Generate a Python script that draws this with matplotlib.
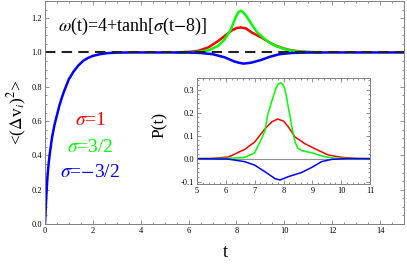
import numpy as np
import matplotlib
matplotlib.use("Agg")
import matplotlib.pyplot as plt
from matplotlib.ticker import MultipleLocator, FormatStrFormatter

plt.rcParams['font.family'] = ['Liberation Serif', 'DejaVu Serif']
plt.rcParams['mathtext.fontset'] = 'stix'

# Hauptplot: <(Δv_i)^2> über t
t_blau = [0, 0.05, 0.1, 0.15, 0.2, 0.3, 0.4, 0.5, 0.6, 0.7, 0.8, 0.9, 1.0, 1.2, 1.4,
          1.6, 1.8, 2.0, 2.3, 2.6, 3.0, 3.5, 4, 5, 6, 6.5, 7, 7.5, 7.9, 8.1, 8.3,
          8.6, 9.0, 9.4, 9.8, 10.3, 11, 12, 13, 14, 15]
v_blau = [0, 0.15, 0.27, 0.35, 0.41, 0.51, 0.58, 0.635, 0.69, 0.735, 0.775, 0.81,
          0.845, 0.89, 0.925, 0.952, 0.968, 0.98, 0.99, 0.996, 0.999, 1.0, 1.0, 1.0,
          1.0, 0.997, 0.99, 0.972, 0.948, 0.94, 0.935, 0.94, 0.955, 0.975, 0.99,
          0.997, 1.0, 1.0, 1.0, 1.0, 1.0]
t_rot = [5.5, 6.0, 6.42, 6.83, 7.25, 7.5, 7.8, 8.0, 8.18, 8.4, 8.63, 9.05, 9.3, 9.6,
         10.0, 10.3, 10.8, 11.5]
v_rot = [1.0, 1.003, 1.01, 1.03, 1.068, 1.095, 1.128, 1.142, 1.146, 1.14, 1.117,
         1.087, 1.065, 1.042, 1.022, 1.012, 1.004, 1.0]
t_gruen = [5.5, 6.0, 6.42, 6.83, 7.25, 7.5, 7.75, 7.95, 8.08, 8.18, 8.28, 8.4, 8.63,
           8.85, 9.05, 9.3, 9.6, 10.0, 10.3, 10.8, 11.5]
v_gruen = [1.0, 1.0, 1.004, 1.012, 1.04, 1.075, 1.13, 1.2, 1.235, 1.243, 1.235, 1.215,
           1.165, 1.12, 1.095, 1.065, 1.04, 1.02, 1.01, 1.003, 1.0]

# Inset: P(t)
p_t_rot = [5, 5.5, 6.09, 6.65, 7.0, 7.36, 7.6, 7.8, 8.0, 8.17, 8.4, 8.74, 9.09, 9.55,
           10.0, 10.5, 11]
p_rot = [0, 0.001, 0.007, 0.04, 0.072, 0.13, 0.16, 0.172, 0.163, 0.138, 0.094, 0.065,
         0.043, 0.016, 0.006, 0.001, 0]
p_t_gruen = [5, 6.0, 6.65, 7.0, 7.24, 7.36, 7.45, 7.59, 7.75, 7.83, 7.91, 7.98, 8.05,
             8.11, 8.17, 8.24, 8.3, 8.4, 8.5, 8.63, 8.8, 8.98, 9.2, 9.44, 9.8, 10.5, 11]
p_gruen = [0, 0.001, 0.005, 0.025, 0.087, 0.123, 0.19, 0.248, 0.31, 0.325, 0.329,
           0.322, 0.30, 0.265, 0.22, 0.175, 0.13, 0.072, 0.045, 0.035, 0.03, 0.026,
           0.017, 0.008, 0.002, 0, 0]
p_t_blau = [5, 6.09, 6.65, 7.0, 7.36, 7.71, 7.88, 8.17, 8.63, 8.98, 9.32, 9.67, 10.2, 11]
p_blau = [0, -0.002, -0.013, -0.028, -0.057, -0.087, -0.0925, -0.078, -0.06, -0.038,
          -0.013, -0.003, 0, 0]

rahmen = '#808080'


def achsen_stil(ax, xmaj, xmin, ymaj, ymin, fmt):
    ax.xaxis.set_major_locator(MultipleLocator(xmaj))
    ax.xaxis.set_minor_locator(MultipleLocator(xmin))
    ax.yaxis.set_major_locator(MultipleLocator(ymaj))
    ax.yaxis.set_minor_locator(MultipleLocator(ymin))
    ax.yaxis.set_major_formatter(FormatStrFormatter(fmt))
    ax.tick_params(which='both', direction='in', top=True, right=True,
                   color=rahmen, labelsize=6, pad=2, width=0.6)
    ax.tick_params(which='major', length=3)
    ax.tick_params(which='minor', length=1.5)
    for s in ax.spines.values():
        s.set_color(rahmen)
        s.set_linewidth(0.7)


fig = plt.figure(figsize=(4.07, 2.64), dpi=100)
ax = fig.add_axes([45 / 407, 40 / 264, 359 / 407, 223 / 264])
ax.plot(t_rot, v_rot, color='red', lw=1.8)
ax.plot(t_gruen, v_gruen, color='#00ff00', lw=1.8)
ax.plot(t_blau, v_blau, color='blue', lw=1.8)
ax.axhline(1.0, color='#222222', lw=1.5, ls=(0, (5, 3)))
ax.set_xlim(0, 15)
ax.set_ylim(0, 1.3)
achsen_stil(ax, 2, 0.5, 0.2, 0.05, '%.1f')
ax.xaxis.set_major_formatter(FormatStrFormatter('%d'))

ax.text(0.036, 0.888, r'$\omega$(t)=4+tanh[$\sigma$(t$-$8)]', transform=ax.transAxes,
        fontsize=13, va='center', ha='left')
ax.text(0.0836, 0.462, r'$\sigma$=1', color='red', transform=ax.transAxes,
        fontsize=14, va='center')
ax.text(0.0613, 0.345, r'$\sigma$=3/2', color='#00ff00', transform=ax.transAxes,
        fontsize=14, va='center')
ax.text(0.0418, 0.233, r'$\sigma$=$-$3/2', color='blue', transform=ax.transAxes,
        fontsize=14, va='center')
ax.text(-0.078, 0.5, r'<($\Delta$v$_{i}$)$^{2}$>', rotation=90, transform=ax.transAxes,
        fontsize=12.5, va='center', ha='center')
ax.text(0.501, -0.126, 't', transform=ax.transAxes, fontsize=13, va='center', ha='center')

# Inset
ins = fig.add_axes([197 / 407, 80 / 264, 173 / 407, 106 / 264])
ins.axhline(0, color='#909090', lw=0.8)
ins.plot(p_t_rot, p_rot, color='red', lw=1.1)
ins.plot(p_t_gruen, p_gruen, color='#00ff00', lw=1.1)
ins.plot(p_t_blau, p_blau, color='blue', lw=1.1)
ins.set_xlim(5, 11)
ins.set_ylim(-0.11, 0.35)
achsen_stil(ins, 1, 0.2, 0.1, 0.02, '%.1f')
ins.xaxis.set_major_formatter(FormatStrFormatter('%d'))
ins.text(-0.214, 0.557, 'P(t)', rotation=90, transform=ins.transAxes,
         fontsize=12.5, va='center', ha='center')

fig.savefig('out.png', dpi=100)
